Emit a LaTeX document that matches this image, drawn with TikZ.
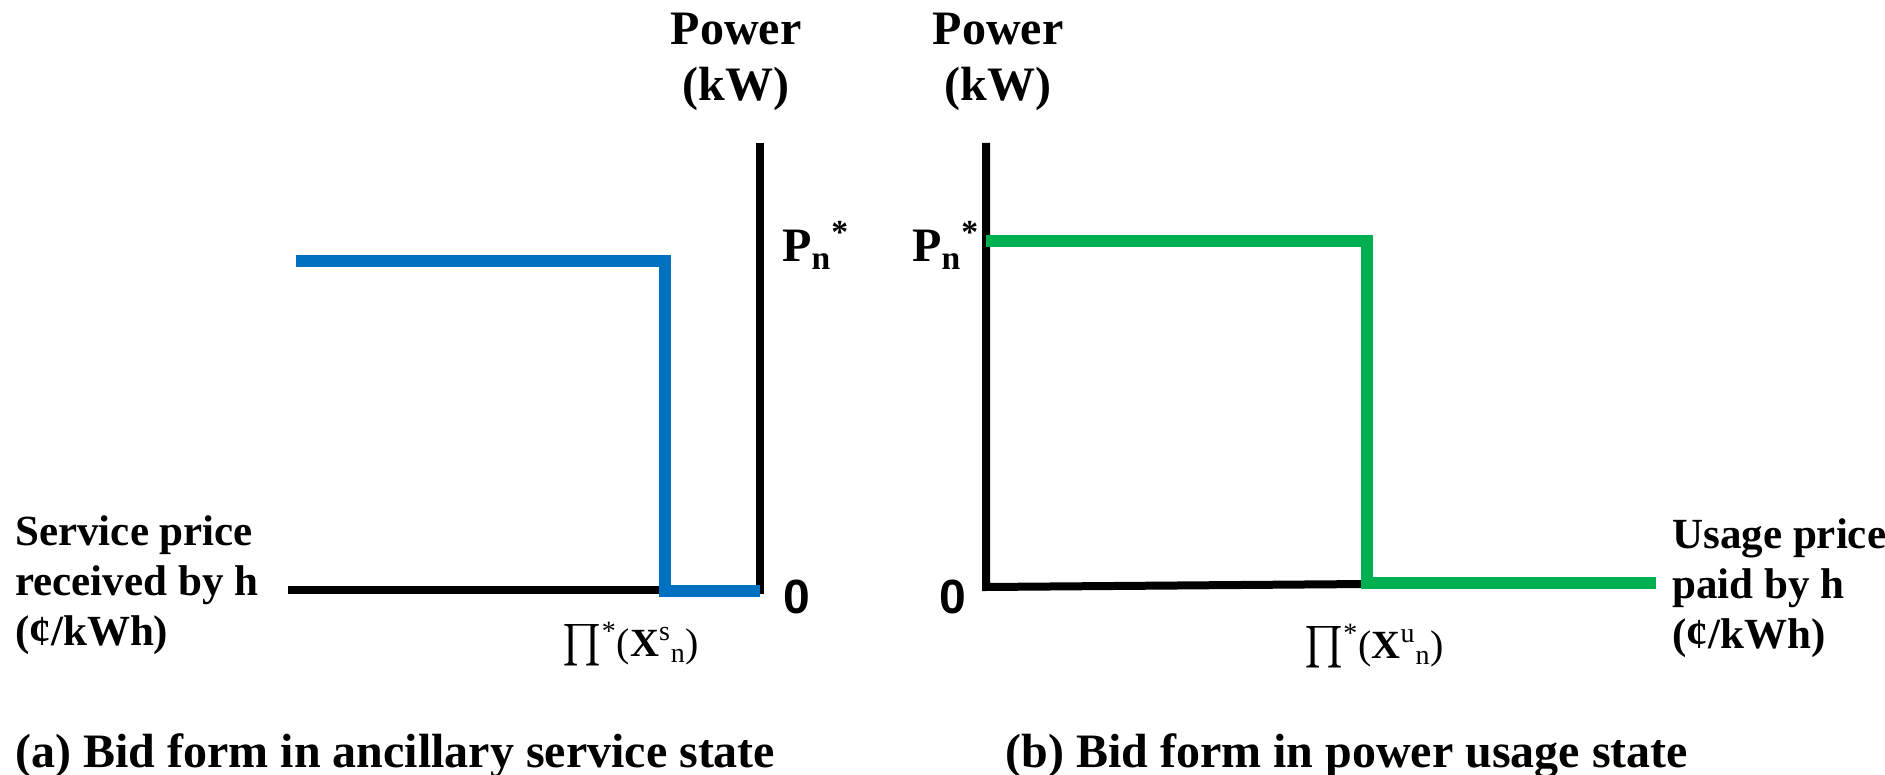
\documentclass[tikz,border=0pt]{standalone}
\usepackage{amsmath}
\usepackage{fontspec}
\setmainfont{Liberation Serif}
\newfontfamily\zerofont{Liberation Sans}
\definecolor{bidblue}{HTML}{0070C0}
\definecolor{bidgreen}{HTML}{00B050}
\newcommand{\bigsize}{\fontsize{24}{28}\selectfont}
\newcommand{\labsize}{\fontsize{21.5}{25}\selectfont}
\newcommand{\pisize}{\fontsize{20}{24}\selectfont}
\begin{document}
\begin{tikzpicture}[x=0.5pt, y=-0.5pt, every node/.style={inner sep=0pt},
    axis/.style={line width=4pt}, bid/.style={line width=6pt},
    title/.style={font=\bfseries\bigsize, align=center, anchor=north},
    lab/.style={font=\bfseries\labsize, align=left, anchor=north west},
    pilab/.style={font=\pisize, anchor=base},
    zero/.style={font=\zerofont\bfseries\bigsize}]
    \useasboundingbox (0,0) rectangle (1885,775);
    % corners of both plots
    \foreach \n/\x/\y in {a0/760/590, atop/760/143, aleft/288/590,
                          ab1/296/261, ab2/665/261, ab3/665/591, ab4/760/591,
                          b0/986/587, btop/986/143, bright/1368/584,
                          bg1/986/241, bg2/1367/241, bg3/1367/583, bg4/1656/583} {
        \coordinate (\n) at (\x,\y);
    }
    \draw[axis] (atop)--(a0)--(aleft);
    \draw[bid, bidblue] (ab1)--(ab2)--(ab3)--(ab4);
    \draw[axis] (btop)--(b0)--(bright);
    \draw[bid, bidgreen] (bg1)--(bg2)--(bg3)--(bg4);
    \node[title] (powA) at (736,13) {Power\\(kW)};
    \node[title] (powB) at (998,13) {Power\\(kW)};
    \node[font=\bfseries\bigsize, anchor=base west] (pA) at (782,262) {P\textsubscript{n}\textsuperscript{*}};
    \node[font=\bfseries\bigsize, anchor=base west] (pB) at (912,262) {P\textsubscript{n}\textsuperscript{*}};
    \node[zero] (zA) at (797,597) {0};
    \node[zero] (zB) at (953,597) {0};
    \node[pilab] (xA) at (631,656) {$\prod$\textsuperscript{*}(\textbf{X}\textsuperscript{s}\textsubscript{n})};
    \node[pilab] (xB) at (1374,658) {$\prod$\textsuperscript{*}(\textbf{X}\textsuperscript{u}\textsubscript{n})};
    \node[lab] (svc) at (15,515) {Service price\\received by h\\(¢/kWh)};
    \node[lab] (use) at (1672,518) {Usage price\\paid by h\\(¢/kWh)};
    \node[font=\bfseries\bigsize, anchor=base west] (capA) at (15,767) {(a) Bid form in ancillary service state};
    \node[font=\bfseries\bigsize, anchor=base west] (capB) at (1005,767) {(b) Bid form in power usage state};
\end{tikzpicture}
\end{document}
